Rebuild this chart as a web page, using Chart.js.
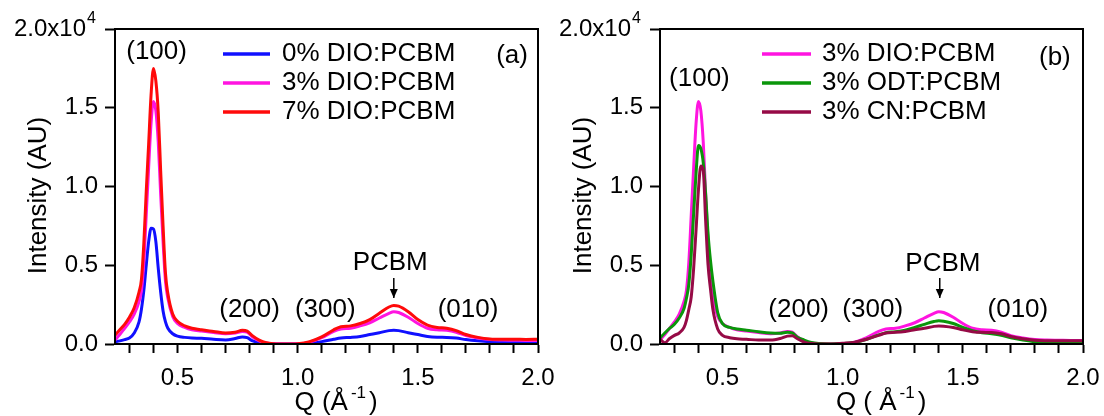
<!DOCTYPE html>
<html>
<head>
<meta charset="utf-8">
<script src="https://cdn.jsdelivr.net/npm/chart.js@4.4.0/dist/chart.umd.min.js"></script>
<style>
  html, body { margin: 0; padding: 0; background: #fff; }
  body { width: 1104px; height: 416px; position: relative; overflow: hidden; }
  canvas { position: absolute; top: 0; }
  #chartA { left: 0; }
  #chartB { left: 550px; }
</style>
</head>
<body>
<canvas id="chartA" width="556" height="416"></canvas>
<canvas id="chartB" width="554" height="416"></canvas>
<script>
// Q values (1/Angstrom), shared by all curves
const q = [0.24, 0.26, 0.28, 0.30, 0.32, 0.34, 0.35, 0.36, 0.37, 0.38, 0.39, 0.40, 0.41, 0.42, 0.43, 0.44, 0.45, 0.46, 0.48, 0.50,
  0.53, 0.56, 0.60, 0.65, 0.70, 0.74, 0.77, 0.79, 0.81, 0.84, 0.87, 0.90, 0.95, 1.00, 1.05, 1.10, 1.15, 1.18, 1.22, 1.26,
  1.30, 1.34, 1.38, 1.40, 1.42, 1.46, 1.50, 1.54, 1.58, 1.62, 1.66, 1.70, 1.75, 1.80, 1.85, 1.90, 1.95, 2.00];

// intensities (AU)
const dio0 = [150, 200, 280, 380, 700, 1400, 2200, 3400, 5000, 6500, 7350, 7300, 6500, 4800, 3300, 2100, 1400, 1000, 650, 500,
  420, 380, 360, 300, 260, 350, 450, 400, 220, 80, 20, 0, 0, 0, 50, 150, 300, 380, 420, 480,
  600, 720, 850, 880, 850, 720, 600, 480, 430, 420, 380, 280, 200, 150, 130, 120, 120, 120];
const dio3 = [250, 600, 1000, 1400, 1900, 2700, 3400, 5200, 8200, 11200, 14000, 15400, 14800, 12800, 9500, 6500, 4000, 2900, 1750, 1300,
  1050, 900, 820, 730, 650, 700, 800, 750, 480, 200, 60, 10, 0, 10, 120, 400, 800, 950, 1000, 1150,
  1350, 1650, 1950, 2050, 2000, 1700, 1300, 1000, 900, 870, 750, 530, 380, 280, 250, 240, 230, 230];
const dio7 = [550, 900, 1250, 1700, 2300, 3300, 4100, 6400, 9700, 12700, 15800, 17500, 16700, 14700, 11000, 7500, 4500, 3200, 1900, 1450,
  1150, 1000, 900, 800, 700, 750, 870, 820, 550, 250, 80, 20, 0, 20, 150, 450, 900, 1100, 1150, 1300,
  1550, 1950, 2350, 2450, 2400, 2050, 1550, 1200, 1050, 1000, 850, 600, 420, 320, 300, 300, 290, 300];
const odt3 = [380, 700, 1000, 1250, 1650, 2250, 2900, 3800, 5700, 8300, 10850, 12600, 12400, 11500, 9500, 7000, 5300, 4000, 2000, 1300,
  1050, 950, 880, 780, 700, 680, 740, 700, 450, 250, 100, 30, 0, 30, 100, 300, 580, 720, 780, 880,
  1050, 1250, 1430, 1480, 1450, 1300, 1050, 850, 720, 650, 550, 400, 260, 150, 100, 90, 90, 90];
const cn3 = [300, 80, 350, 550, 700, 1050, 1500, 2200, 3000, 4800, 7240, 9800, 11300, 11000, 7800, 5000, 3500, 2200, 950, 550,
  400, 330, 300, 250, 250, 350, 500, 520, 350, 120, 30, 0, 0, 50, 120, 300, 550, 700, 740, 800,
  900, 1000, 1120, 1150, 1130, 1050, 900, 780, 740, 730, 650, 480, 330, 240, 210, 200, 200, 200];

const FONT = "'Liberation Sans', Arial, sans-serif";

function pts(arr) {
  return q.map((v, i) => ({x: v, y: arr[i]}));
}

function series(label, arr, color, order) {
  return {
    label: label,
    data: pts(arr),
    borderColor: color,
    backgroundColor: color,
    borderWidth: 3,
    pointRadius: 0,
    fill: false,
    cubicInterpolationMode: 'monotone',
    order: order
  };
}

// frame, legend, peak labels, axis titles
const decor = {
  id: 'decor',
  afterDraw(chart, args, o) {
    const ctx = chart.ctx;
    const a = chart.chartArea;
    const x = chart.scales.x;
    const y = chart.scales.y;
    ctx.save();
    ctx.strokeStyle = '#000';
    ctx.lineWidth = 2;
    ctx.strokeRect(a.left, a.top, a.right - a.left, a.bottom - a.top);

    ctx.fillStyle = '#000';
    // exponent of top y label
    ctx.font = '16px ' + FONT;
    ctx.textAlign = 'left';
    ctx.textBaseline = 'middle';
    ctx.fillText('4', a.left - 28, y.getPixelForValue(20000) - 10);

    // peak labels
    ctx.font = '26px ' + FONT;
    ctx.textAlign = 'center';
    o.notes.forEach(n => {
      ctx.fillText(n[0], x.getPixelForValue(n[1]), y.getPixelForValue(n[2]));
    });

    // arrow to PCBM peak
    const ax = x.getPixelForValue(o.arrow[0]);
    const ay0 = y.getPixelForValue(o.arrow[1]);
    const ay1 = y.getPixelForValue(o.arrow[2]);
    ctx.lineWidth = 1.5;
    ctx.beginPath();
    ctx.moveTo(ax, ay0);
    ctx.lineTo(ax, ay1);
    ctx.stroke();
    ctx.beginPath();
    ctx.moveTo(ax - 4, ay1 - 9);
    ctx.lineTo(ax, ay1);
    ctx.lineTo(ax + 4, ay1 - 9);
    ctx.closePath();
    ctx.fill();

    // legend
    ctx.textAlign = 'left';
    chart.data.datasets.forEach((ds, i) => {
      const ry = a.top + o.legend.rows[i];
      ctx.strokeStyle = ds.borderColor;
      ctx.lineWidth = 3.5;
      ctx.beginPath();
      ctx.moveTo(a.left + o.legend.x0, ry);
      ctx.lineTo(a.left + o.legend.x1, ry);
      ctx.stroke();
      ctx.fillStyle = '#000';
      ctx.fillText(ds.label, a.left + o.legend.tx, ry);
    });

    // y title
    ctx.save();
    ctx.translate(a.left - 76, (a.top + a.bottom) / 2 + 9);
    ctx.rotate(-Math.PI / 2);
    ctx.textAlign = 'center';
    ctx.fillText('Intensity (AU)', 0, 0);
    ctx.restore();

    // x title with superscript
    ctx.textBaseline = 'alphabetic';
    ctx.font = '26px ' + FONT;
    const w1 = ctx.measureText(o.xt).width;
    const w3 = ctx.measureText(')').width;
    ctx.font = '17px ' + FONT;
    const w2 = ctx.measureText('-1').width + 6;
    const cx = x.getPixelForValue(1.16);
    let sx = cx - (w1 + w2 + w3) / 2;
    const by = 410;
    ctx.font = '26px ' + FONT;
    ctx.fillText(o.xt, sx, by);
    ctx.font = '17px ' + FONT;
    ctx.fillText('-1', sx + w1 + 3, by - 12);
    ctx.font = '26px ' + FONT;
    ctx.fillText(')', sx + w1 + w2, by);
    ctx.restore();
  }
};

function isMajor(v) {
  return Math.abs(v * 2 - Math.round(v * 2)) < 1e-6;
}

function makeChart(id, datasets, yWidth, padRight, deco) {
  return new Chart(document.getElementById(id), {
    type: 'line',
    data: { datasets: datasets },
    options: {
      responsive: false,
      animation: false,
      layout: { padding: { top: 29, right: padRight, left: 0, bottom: 0 } },
      plugins: {
        legend: { display: false },
        tooltip: { enabled: false },
        decor: deco
      },
      scales: {
        x: {
          type: 'linear',
          min: 0.24,
          max: 2.0,
          afterFit(s) { s.height = 72; s.paddingLeft = 0; s.paddingRight = 0; },
          ticks: {
            stepSize: 0.1,
            includeBounds: false,
            autoSkip: false,
            maxRotation: 0,
            padding: 11,
            color: '#000',
            font: { family: FONT, size: 24 },
            callback: v => isMajor(v) ? v.toFixed(1) : ''
          },
          grid: { drawOnChartArea: false, tickLength: 9, tickWidth: 2, tickColor: '#000' },
          border: { color: '#000', width: 2 }
        },
        y: {
          min: 0,
          max: 20000,
          afterFit(s) { s.width = yWidth; },
          ticks: {
            stepSize: 5000,
            padding: 7,
            color: '#000',
            font: { family: FONT, size: 24 },
            callback: v => v === 20000 ? '2.0x10\u2002' : (v / 10000).toFixed(1)
          },
          grid: { drawOnChartArea: false, tickLength: 10, tickWidth: 2, tickColor: '#000' },
          border: { color: '#000', width: 2 }
        }
      }
    },
    plugins: [decor]
  });
}

const BLUE = '#1010ff', PINK = '#ff14e0', RED = '#ff0a0a', GREEN = '#0a960a', MAROON = '#960a46';

makeChart('chartA', [
  series('0% DIO:PCBM', dio0, BLUE, 2),
  series('3% DIO:PCBM', dio3, PINK, 1),
  series('7% DIO:PCBM', dio7, RED, 0)
], 115, 18, {
  notes: [['(100)', 0.413, 18540], ['(200)', 0.80, 2160], ['(300)', 1.115, 2160],
          ['PCBM', 1.385, 5140], ['(010)', 1.709, 2160], ['(a)', 1.892, 18285]],
  arrow: [1.40, 4190, 2920],
  legend: { x0: 108, x1: 155, tx: 167, rows: [25, 54, 83] },
  xt: 'Q (Å'
});

makeChart('chartB', [
  series('3% DIO:PCBM', dio3, PINK, 2),
  series('3% ODT:PCBM', odt3, GREEN, 1),
  series('3% CN:PCBM', cn3, MAROON, 0)
], 110, 21, {
  notes: [['(100)', 0.404, 16825], ['(200)', 0.817, 2160], ['(300)', 1.125, 2160],
          ['PCBM', 1.417, 5080], ['(010)', 1.729, 2160], ['(b)', 1.883, 18150]],
  arrow: [1.404, 4190, 2920],
  legend: { x0: 102, x1: 151, tx: 162, rows: [25, 54, 83] },
  xt: 'Q ( Å'
});
</script>
</body>
</html>
